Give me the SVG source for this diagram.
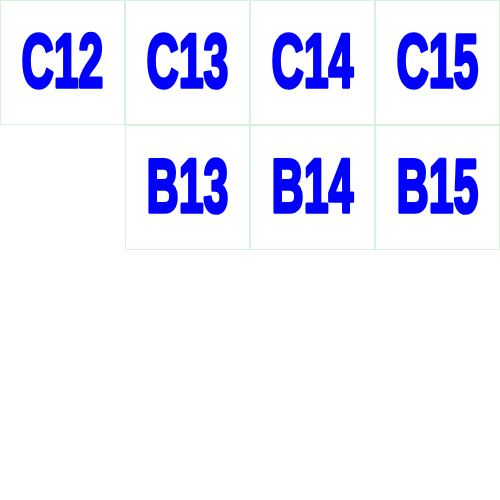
<svg xmlns="http://www.w3.org/2000/svg" width="500" height="500" viewBox="0 0 500 500">
<style>
.cell{fill:#ffffff;stroke:#d4f2dc;stroke-width:1}
.lbl{font-family:"Liberation Sans",Arial,sans-serif;font-weight:bold;font-size:72px;fill:#0000ff;stroke:#0000ff;stroke-width:3.5;stroke-linejoin:round;text-anchor:middle}
</style>
<rect width="500" height="500" fill="#ffffff"/>
<g id="C12"><rect class="cell" x="0.5" y="0.5" width="124" height="124"/><text class="lbl" transform="translate(62.5,86.5) scale(0.62,1.05)">C12</text></g>
<g id="C13"><rect class="cell" x="125.5" y="0.5" width="124" height="124"/><text class="lbl" transform="translate(187.5,86.5) scale(0.62,1.05)">C13</text></g>
<g id="C14"><rect class="cell" x="250.5" y="0.5" width="124" height="124"/><text class="lbl" transform="translate(312.5,86.5) scale(0.62,1.05)">C14</text></g>
<g id="C15"><rect class="cell" x="375.5" y="0.5" width="124" height="124"/><text class="lbl" transform="translate(437.5,86.5) scale(0.62,1.05)">C15</text></g>
<g id="B13"><rect class="cell" x="125.5" y="125.5" width="124" height="124"/><text class="lbl" transform="translate(187.5,211.5) scale(0.62,1.05)">B13</text></g>
<g id="B14"><rect class="cell" x="250.5" y="125.5" width="124" height="124"/><text class="lbl" transform="translate(312.5,211.5) scale(0.62,1.05)">B14</text></g>
<g id="B15"><rect class="cell" x="375.5" y="125.5" width="124" height="124"/><text class="lbl" transform="translate(437.5,211.5) scale(0.62,1.05)">B15</text></g>
</svg>
